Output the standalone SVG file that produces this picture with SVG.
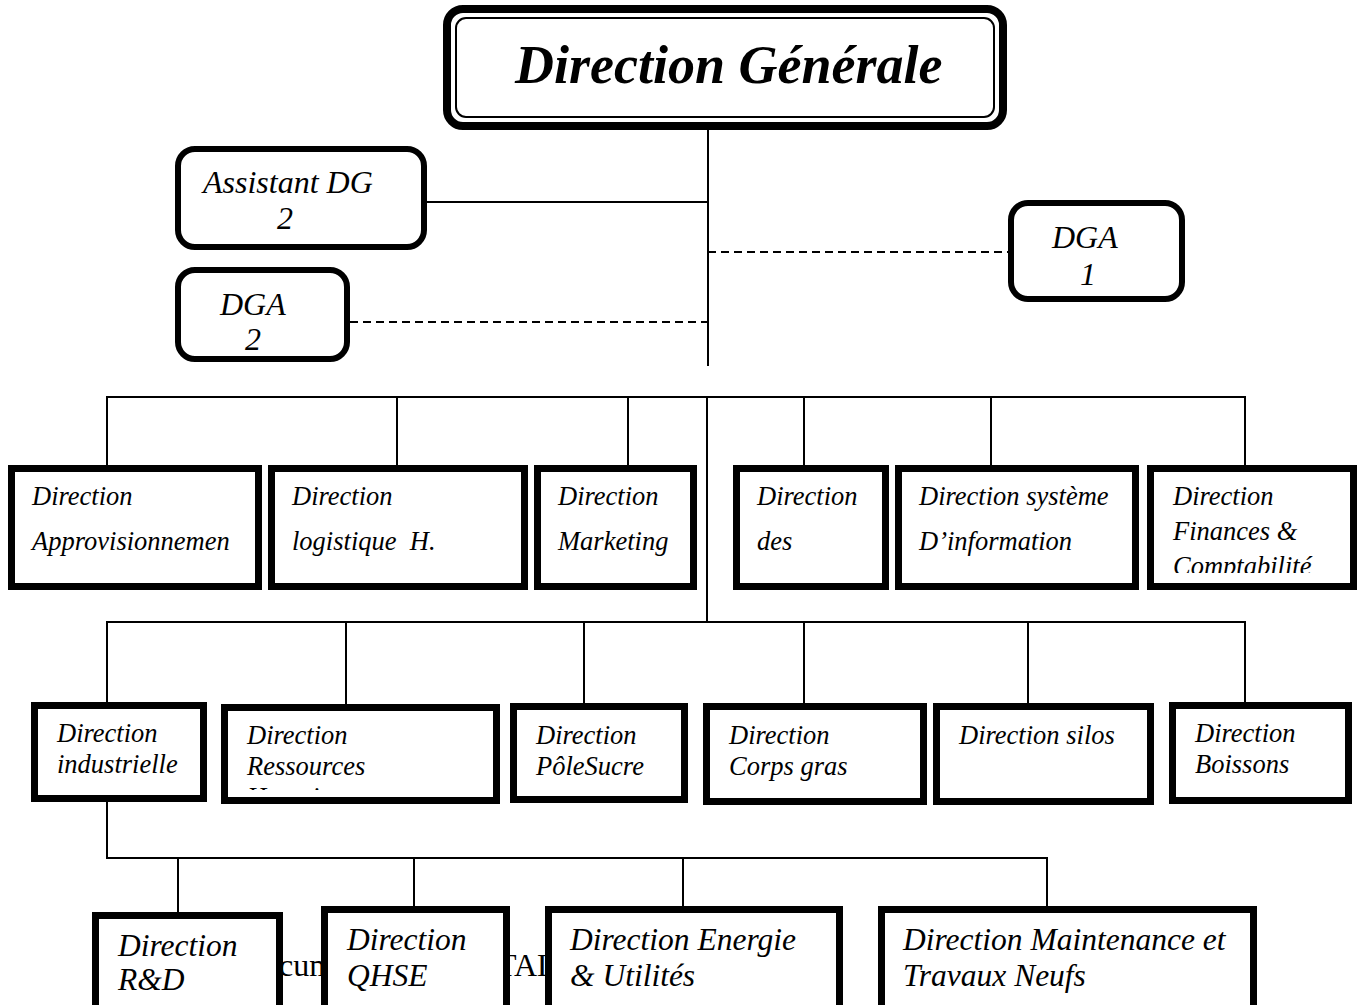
<svg xmlns="http://www.w3.org/2000/svg" width="1359" height="1005" viewBox="0 0 1359 1005">
<style>
.ln{stroke:#000;stroke-width:2;fill:none}
.dash{stroke-dasharray:8 5}
.box{fill:#fff;stroke:#000;stroke-width:7}
.rbox{fill:#fff;stroke:#000;stroke-width:6}
.t{font-family:"Liberation Serif","Times New Roman",serif;font-style:italic;fill:#000}
.bg{font-family:"Liberation Serif","Times New Roman",serif;font-size:32px;fill:#000}
.s1{font-size:26.5px}
.s2{font-size:32px}
.s3{font-size:31.5px}
</style>
<defs>
<clipPath id="clipFin"><rect x="1150" y="470" width="205" height="103"/></clipPath>
<clipPath id="clipRH"><rect x="228" y="710" width="268" height="80"/></clipPath>
</defs>
<rect width="1359" height="1005" fill="#fff"/>
<text class="bg" x="279" y="976">cum</text>
<text class="bg" x="497" y="976">TAL</text>
<g id="connectors">
<line class="ln" x1="708" y1="130" x2="708" y2="366"/>
<line class="ln" x1="427" y1="202" x2="708" y2="202"/>
<line class="ln dash" x1="350" y1="322" x2="708" y2="322"/>
<line class="ln dash" x1="708" y1="252" x2="1008" y2="252"/>
<line class="ln" x1="106" y1="397" x2="1246" y2="397"/>
<line class="ln" x1="107" y1="397" x2="107" y2="466"/>
<line class="ln" x1="397" y1="397" x2="397" y2="466"/>
<line class="ln" x1="628" y1="397" x2="628" y2="466"/>
<line class="ln" x1="804" y1="397" x2="804" y2="466"/>
<line class="ln" x1="991" y1="397" x2="991" y2="466"/>
<line class="ln" x1="1245" y1="397" x2="1245" y2="466"/>
<line class="ln" x1="707" y1="397" x2="707" y2="622"/>
<line class="ln" x1="106" y1="622" x2="1246" y2="622"/>
<line class="ln" x1="107" y1="622" x2="107" y2="703"/>
<line class="ln" x1="346" y1="622" x2="346" y2="704"/>
<line class="ln" x1="584" y1="622" x2="584" y2="703"/>
<line class="ln" x1="804" y1="622" x2="804" y2="703"/>
<line class="ln" x1="1028" y1="622" x2="1028" y2="703"/>
<line class="ln" x1="1245" y1="622" x2="1245" y2="702"/>
<line class="ln" x1="107" y1="802" x2="107" y2="858"/>
<line class="ln" x1="106" y1="858" x2="1048" y2="858"/>
<line class="ln" x1="178" y1="858" x2="178" y2="912"/>
<line class="ln" x1="414" y1="858" x2="414" y2="906"/>
<line class="ln" x1="683" y1="858" x2="683" y2="906"/>
<line class="ln" x1="1047" y1="858" x2="1047" y2="906"/>
</g>
<g id="dg">
<rect x="447" y="9" width="556" height="117" rx="16" fill="#fff" stroke="#000" stroke-width="8"/>
<rect x="456" y="18" width="538" height="99" rx="10" fill="none" stroke="#000" stroke-width="2"/>
<text class="t" x="515" y="83" font-size="54" font-weight="bold">Direction Générale</text>
</g>
<g id="assistant-dg">
<rect class="rbox" x="178" y="149" width="246" height="98" rx="17"/>
<text class="t s2" x="203" y="193">Assistant DG</text>
<text class="t s2" x="277" y="229">2</text>
</g>
<g id="dga2">
<rect class="rbox" x="178" y="270" width="169" height="89" rx="17"/>
<text class="t s2" x="220" y="315">DGA</text>
<text class="t s2" x="245" y="350">2</text>
</g>
<g id="dga1">
<rect class="rbox" x="1011" y="203" width="171" height="96" rx="17"/>
<text class="t s2" x="1052" y="248">DGA</text>
<text class="t s2" x="1080" y="285">1</text>
</g>
<g id="dir-appro">
<rect class="box" x="11.5" y="468.5" width="247" height="118"/>
<text class="t s1" x="32" y="505">Direction</text>
<text class="t s1" x="32" y="550">Approvisionnemen</text>
</g>
<g id="dir-logistique">
<rect class="box" x="271.5" y="468.5" width="253" height="118"/>
<text class="t s1" x="292" y="505">Direction</text>
<text class="t s1" x="292" y="550" xml:space="preserve">logistique  H.</text>
</g>
<g id="dir-marketing">
<rect class="box" x="537.5" y="468.5" width="156" height="118"/>
<text class="t s1" x="558" y="505">Direction</text>
<text class="t s1" x="558" y="550">Marketing</text>
</g>
<g id="dir-des">
<rect class="box" x="736.5" y="468.5" width="149" height="118"/>
<text class="t s1" x="757" y="505">Direction</text>
<text class="t s1" x="757" y="550">des</text>
</g>
<g id="dir-si">
<rect class="box" x="898.5" y="468.5" width="237" height="118"/>
<text class="t s1" x="919" y="505">Direction système</text>
<text class="t s1" x="919" y="550">D’information</text>
</g>
<g id="dir-finances">
<rect class="box" x="1150.5" y="468.5" width="203" height="118"/>
<g clip-path="url(#clipFin)">
<text class="t s1" x="1173" y="505">Direction</text>
<text class="t s1" x="1173" y="540">Finances &amp;</text>
<text class="t s1" x="1173" y="575">Comptabilité</text>
</g>
</g>
<g id="dir-industrielle">
<rect class="box" x="34.5" y="705.5" width="169" height="93"/>
<text class="t s1" x="57" y="742">Direction</text>
<text class="t s1" x="57" y="773">industrielle</text>
</g>
<g id="dir-rh">
<rect class="box" x="224.5" y="707.5" width="272" height="93"/>
<g clip-path="url(#clipRH)">
<text class="t s1" x="247" y="744">Direction</text>
<text class="t s1" x="247" y="775">Ressources</text>
<text class="t s1" x="247" y="806">Humaines</text>
</g>
</g>
<g id="dir-sucre">
<rect class="box" x="513.5" y="706.5" width="171" height="93"/>
<text class="t s1" x="536" y="744">Direction</text>
<text class="t s1" x="536" y="775">PôleSucre</text>
</g>
<g id="dir-corps-gras">
<rect class="box" x="706.5" y="706.5" width="217" height="95"/>
<text class="t s1" x="729" y="744">Direction</text>
<text class="t s1" x="729" y="775">Corps gras</text>
</g>
<g id="dir-silos">
<rect class="box" x="936.5" y="706.5" width="214" height="95"/>
<text class="t s1" x="959" y="744">Direction silos</text>
</g>
<g id="dir-boissons">
<rect class="box" x="1172.5" y="705.5" width="176" height="95"/>
<text class="t s1" x="1195" y="742">Direction</text>
<text class="t s1" x="1195" y="773">Boissons</text>
</g>
<g id="dir-rd">
<rect class="box" x="95.5" y="915.5" width="184" height="100"/>
<text class="t s3" x="118" y="956">Direction</text>
<text class="t s3" x="118" y="990">R&amp;D</text>
</g>
<g id="dir-qhse">
<rect class="box" x="324.5" y="909.5" width="182" height="100"/>
<text class="t s3" x="347" y="950">Direction</text>
<text class="t s3" x="347" y="986">QHSE</text>
</g>
<g id="dir-energie">
<rect class="box" x="548.5" y="909.5" width="291" height="100"/>
<text class="t s3" x="570" y="950">Direction Energie</text>
<text class="t s3" x="570" y="986">&amp; Utilités</text>
</g>
<g id="dir-maintenance">
<rect class="box" x="881.5" y="909.5" width="372" height="100"/>
<text class="t s3" x="903" y="950">Direction Maintenance et</text>
<text class="t s3" x="903" y="986">Travaux Neufs</text>
</g>
</svg>
